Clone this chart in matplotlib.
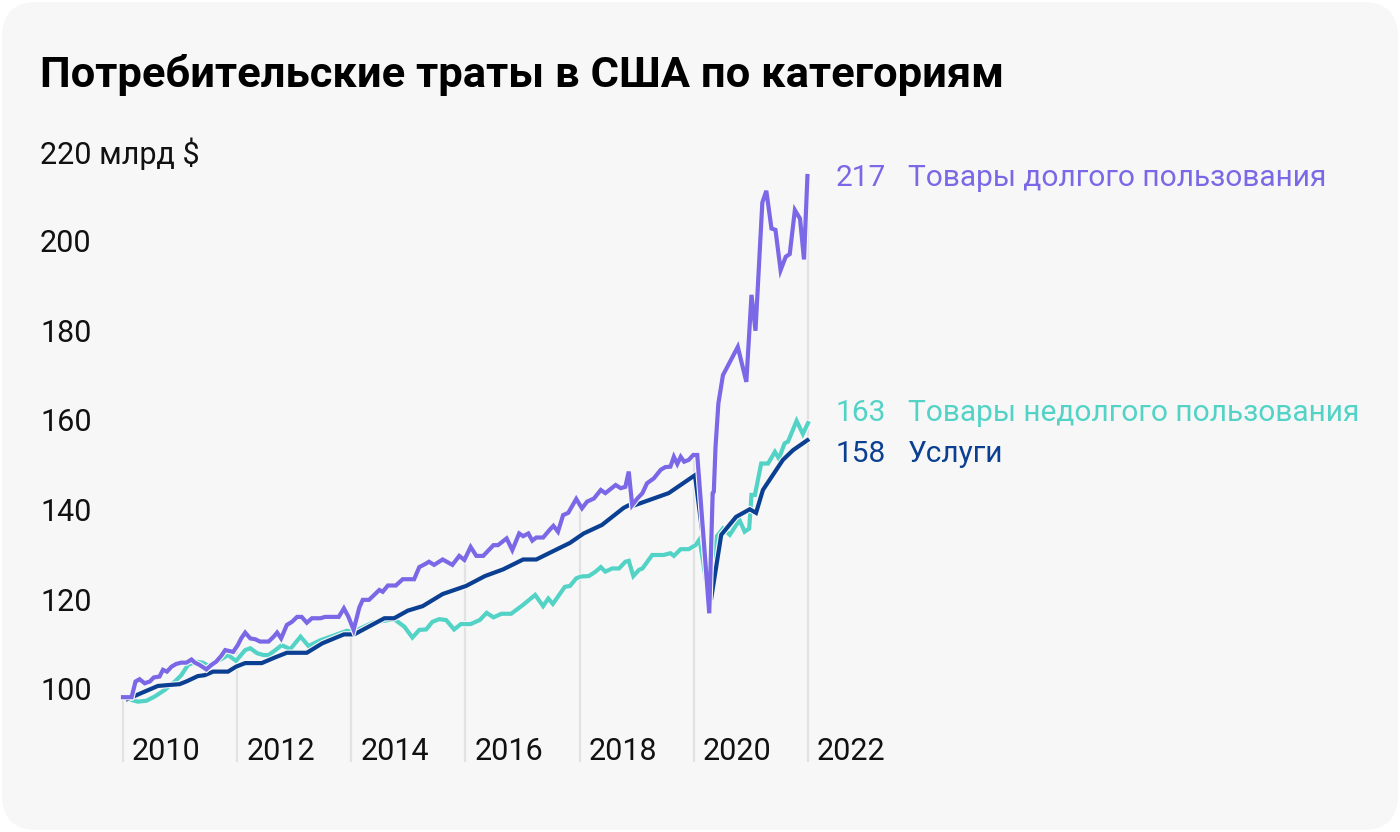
import numpy as np
import matplotlib
matplotlib.use("Agg")
import matplotlib.pyplot as plt
import matplotlib.transforms as mtransforms
from matplotlib.patches import FancyBboxPatch
import matplotlib.patheffects as pe

plt.rcParams['font.family'] = ['Roboto', 'DejaVu Sans']

# ---------------- data ----------------
title = "Потребительские траты в США по категориям"
y_ticks = [100, 120, 140, 160, 180, 200, 220]
y_tick_labels = ["100", "120", "140", "160", "180", "200", "220 млрд $"]
x_years = [2010, 2012, 2014, 2016, 2018, 2020, 2022]
x_labels = ["2010", "2012", "2014", "2016", "2018", "2020", "2022"]

durable_x = [2010.00, 2010.15, 2010.22, 2010.29, 2010.38, 2010.47, 2010.54, 2010.64, 2010.70, 2010.77,
             2010.85, 2010.93, 2011.02, 2011.11, 2011.20, 2011.26, 2011.34, 2011.46, 2011.55, 2011.63,
             2011.72, 2011.79, 2011.93, 2012.01, 2012.07, 2012.14, 2012.23, 2012.32, 2012.40, 2012.55,
             2012.64, 2012.70, 2012.77, 2012.87, 2012.96, 2013.05, 2013.13, 2013.22, 2013.31, 2013.46,
             2013.54, 2013.78, 2013.87, 2013.95, 2014.04, 2014.14, 2014.20, 2014.31, 2014.40, 2014.49,
             2014.55, 2014.64, 2014.78, 2014.90, 2015.10, 2015.19, 2015.31, 2015.36, 2015.45, 2015.60,
             2015.77, 2015.89, 2015.98, 2016.09, 2016.19, 2016.31, 2016.49, 2016.57, 2016.72, 2016.82,
             2016.94, 2017.01, 2017.10, 2017.17, 2017.24, 2017.36, 2017.48, 2017.54, 2017.62, 2017.71,
             2017.80, 2017.94, 2018.04, 2018.13, 2018.25, 2018.37, 2018.45, 2018.63, 2018.72, 2018.80,
             2018.86, 2018.92, 2019.01, 2019.10, 2019.18, 2019.30, 2019.42, 2019.50, 2019.59, 2019.65,
             2019.71, 2019.77, 2019.83, 2019.91, 2019.99, 2020.06, 2020.27, 2020.33, 2020.35, 2020.38,
             2020.43, 2020.51, 2020.77, 2020.92, 2021.01, 2021.08, 2021.20, 2021.27, 2021.36, 2021.43,
             2021.52, 2021.61, 2021.68, 2021.77, 2021.86, 2021.93, 2021.99]
durable_y = [98.4, 98.4, 101.9, 102.4, 101.5, 101.9, 102.8, 103.0, 104.5, 104.1,
             105.2, 105.8, 106.1, 106.1, 106.8, 106.1, 105.6, 104.6, 105.6, 106.3,
             107.6, 108.9, 108.5, 110.0, 111.5, 112.8, 111.5, 111.3, 110.8, 110.8,
             111.9, 112.8, 111.5, 114.5, 115.2, 116.3, 116.3, 115.0, 116.0, 116.0,
             116.3, 116.3, 118.2, 116.3, 113.4, 118.4, 120.1, 120.1, 121.2, 122.3,
             121.9, 123.3, 123.3, 124.7, 124.7, 127.4, 128.2, 128.6, 127.9, 129.1,
             127.9, 129.9, 129.0, 131.9, 129.9, 129.9, 132.3, 132.3, 133.8, 131.2,
             134.9, 134.3, 134.9, 133.3, 134.0, 134.0, 135.8, 136.6, 135.3, 139.0,
             139.5, 142.6, 140.5, 142.0, 142.7, 144.6, 143.9, 145.7, 145.0, 145.3,
             148.7, 141.2, 142.7, 143.9, 146.1, 147.2, 149.1, 149.7, 149.8, 152.0,
             150.4, 152.0, 150.9, 151.3, 152.4, 152.4, 117.1, 143.9, 144.2, 154.2,
             163.9, 170.2, 176.5, 168.7, 188.1, 180.1, 208.7, 211.3, 202.9, 202.6,
             193.6, 196.6, 197.2, 207.0, 205.1, 196.0, 214.6]

nondurable_x = [2010.08, 2010.26, 2010.41, 2010.55, 2010.73, 2010.91, 2011.02, 2011.14, 2011.28, 2011.40,
                2011.49, 2011.62, 2011.75, 2011.84, 2011.98, 2012.14, 2012.23, 2012.35, 2012.46, 2012.55,
                2012.67, 2012.78, 2012.93, 2013.11, 2013.25, 2013.46, 2013.66, 2013.92, 2014.04, 2014.37,
                2014.75, 2014.93, 2015.07, 2015.19, 2015.31, 2015.42, 2015.54, 2015.66, 2015.80, 2015.92,
                2016.09, 2016.25, 2016.37, 2016.49, 2016.63, 2016.80, 2017.01, 2017.22, 2017.36, 2017.45,
                2017.53, 2017.74, 2017.83, 2017.94, 2018.02, 2018.16, 2018.28, 2018.37, 2018.45, 2018.57,
                2018.69, 2018.80, 2018.86, 2018.94, 2019.04, 2019.10, 2019.27, 2019.47, 2019.59, 2019.65,
                2019.77, 2019.91, 2020.03, 2020.10, 2020.28, 2020.40, 2020.51, 2020.63, 2020.80, 2020.89,
                2020.97, 2021.01, 2021.07, 2021.18, 2021.30, 2021.42, 2021.49, 2021.59, 2021.65, 2021.80,
                2021.91, 2022.00]
nondurable_y = [98.0, 97.4, 97.6, 98.5, 100.0, 101.9, 103.3, 105.6, 106.3, 106.1,
                105.4, 106.2, 107.1, 107.8, 106.5, 108.9, 109.3, 108.2, 107.8, 107.8,
                108.9, 110.0, 109.1, 111.9, 109.8, 111.1, 112.0, 113.2, 113.0, 115.0,
                115.8, 114.1, 111.7, 113.4, 113.5, 115.2, 115.8, 115.6, 113.5, 114.7,
                114.7, 115.6, 117.2, 116.2, 117.0, 117.0, 119.0, 121.2, 118.7, 120.4,
                119.2, 123.0, 123.2, 124.9, 125.3, 125.4, 126.4, 127.4, 126.4, 127.1,
                127.1, 128.6, 128.8, 125.4, 126.8, 127.1, 130.1, 130.1, 130.5, 129.9,
                131.4, 131.4, 132.3, 133.6, 119.0, 134.2, 136.0, 134.6, 137.9, 135.3,
                136.0, 143.5, 143.5, 150.5, 150.5, 153.1, 151.6, 155.0, 155.4, 160.0,
                157.1, 159.5]

services_x = [2010.08, 2010.61, 2010.79, 2010.99, 2011.11, 2011.31, 2011.43, 2011.58, 2011.84, 2011.98,
              2012.14, 2012.43, 2012.67, 2012.87, 2013.22, 2013.49, 2013.66, 2013.87, 2014.05, 2014.58,
              2014.75, 2014.99, 2015.25, 2015.60, 2016.01, 2016.34, 2016.66, 2017.01, 2017.24, 2017.51,
              2017.83, 2018.07, 2018.39, 2018.77, 2018.86, 2018.92, 2019.56, 2020.02, 2020.30, 2020.48,
              2020.74, 2020.98, 2021.09, 2021.21, 2021.56, 2021.74, 2021.99]
services_y = [98.0, 100.9, 101.1, 101.3, 101.9, 103.1, 103.3, 104.1, 104.1, 105.2,
              106.0, 106.0, 107.3, 108.3, 108.3, 110.4, 111.3, 112.4, 112.4, 116.0,
              116.0, 117.7, 118.7, 121.4, 123.2, 125.4, 126.9, 129.1, 129.1, 130.8,
              132.8, 134.9, 136.8, 140.6, 141.2, 141.0, 143.9, 147.9, 120.1, 134.6,
              138.6, 140.3, 139.5, 144.6, 151.3, 153.5, 155.7]

series_names = ["Товары долгого пользования", "Товары недолгого пользования", "Услуги"]
series_last = ["217", "163", "158"]
label_values = [214.2, 161.8, 152.6]

# ---------------- styling ----------------
C_DUR = "#7A68E6"
C_NON = "#52D3C6"
C_SER = "#0B3F92"
GRID = "#E2E2E2"
TXT = "#111111"
BG = "#F7F7F7"

W, H = 1400, 832
fig = plt.figure(figsize=(W / 100, H / 100), dpi=100)
fig.patch.set_facecolor("white")
card = FancyBboxPatch((2 / W, 2 / H), (W - 4) / W, (H - 4) / H,
                      boxstyle="round,pad=0,rounding_size=0.025",
                      transform=fig.transFigure, facecolor=BG, edgecolor="none",
                      mutation_aspect=W / H, zorder=-10)
fig.patches.append(card)

fig.text(40 / W, 1 - 75 / H, title, fontsize=31.3, fontweight="bold", color="#000000",
         ha="left", va="center")

# axes: px x 123..808 -> 2010..2022 ; px y 762 (bottom) .. 140 (top)
px_per_unit = 4.485
y_bot = 100 - (762 - 690) / px_per_unit
y_top = 100 + (690 - 140) / px_per_unit
ax = fig.add_axes([123 / W, 1 - 762 / H, (808 - 123) / W, (762 - 140) / H], zorder=1)
ax.set_xlim(2010, 2022)
ax.set_ylim(y_bot, y_top)
ax.patch.set_visible(False)
for s in ax.spines.values():
    s.set_visible(False)
ax.set_xticks([])
ax.set_yticks([])

# vertical gridlines from bottom up to the highest line at that date
for yr in x_years:
    top = max(np.interp(yr, durable_x, durable_y),
              np.interp(yr, nondurable_x, nondurable_y),
              np.interp(yr, services_x, services_y))
    ax.vlines(yr, y_bot, top, color=GRID, lw=1.6, zorder=1, clip_on=False)

stroke = [pe.Stroke(linewidth=4.6, foreground=BG), pe.Normal()]
ax.plot(nondurable_x, nondurable_y, color=C_NON, lw=3.0, zorder=3, clip_on=False,
        solid_joinstyle="miter", path_effects=stroke)
ax.plot(services_x, services_y, color=C_SER, lw=3.0, zorder=4, clip_on=False,
        solid_joinstyle="miter", path_effects=stroke)
ax.plot(durable_x, durable_y, color=C_DUR, lw=3.0, zorder=5, clip_on=False,
        solid_joinstyle="miter", path_effects=stroke)

# y tick labels (left aligned at x=40px)
ytr = mtransforms.blended_transform_factory(fig.transFigure, ax.transData)
ytr = mtransforms.offset_copy(ytr, fig=fig, x=0, y=-2, units="dots")
for v, lab in zip(y_ticks, y_tick_labels):
    fig.text(40 / W, v, lab, transform=ytr, fontsize=22, color=TXT, ha="left", va="center")

# x labels, right of each gridline
xtr = mtransforms.blended_transform_factory(ax.transData, fig.transFigure)
xtr_off = mtransforms.offset_copy(xtr, fig=fig, x=9, y=0, units="dots")
for yr, lab in zip(x_years, x_labels):
    ax.text(yr, 1 - 751 / H, lab, transform=xtr_off, fontsize=22, color=TXT,
            ha="left", va="center", clip_on=False)

# right-hand labels
rtr = mtransforms.blended_transform_factory(fig.transFigure, ax.transData)
for name, last, lv, col in zip(series_names, series_last, label_values, [C_DUR, C_NON, C_SER]):
    fig.text(886 / W, lv, last, transform=rtr, fontsize=21.5, color=col, ha="right", va="center")
    fig.text(908 / W, lv, name, transform=rtr, fontsize=21.5, color=col, ha="left", va="center")

fig.savefig("out.png", dpi=100, facecolor=fig.get_facecolor())
